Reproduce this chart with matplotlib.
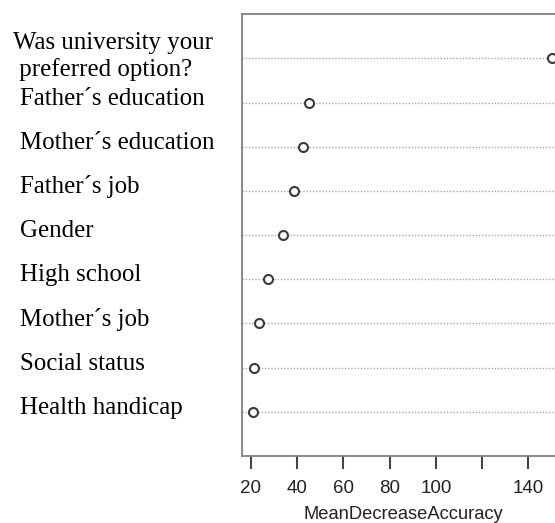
import numpy as np
import matplotlib.pyplot as plt
from matplotlib import transforms

# variable importance from the random forest, listed top to bottom
variables = [
    "Was university your\n preferred option?",
    "Father\u00b4s education",
    "Mother\u00b4s education",
    "Father\u00b4s job",
    "Gender",
    "High school",
    "Mother\u00b4s job",
    "Social status",
    "Health handicap",
]
mean_decrease_accuracy = [150.0, 45.3, 42.6, 38.7, 34.0, 27.5, 23.6, 21.4, 21.1]

x_ticks = [20, 40, 60, 80, 100, 120, 140]
x_tick_labels = ["20", "40", "60", "80", "100", "", "140"]

fig = plt.figure(figsize=(5.55, 5.23), dpi=100)
# the panel runs past the right edge of the figure
ax = fig.add_axes([0.4366, 0.128, 0.579, 0.845])

n = len(variables)
rows = np.arange(n, 0, -1)

for r in rows:
    ax.axhline(r, color="#a8a8a8", lw=1.0, ls=(0, (1, 1.3)), zorder=1)

ax.scatter(mean_decrease_accuracy, rows, s=42, facecolors="white",
           edgecolors="#3a3a3a", linewidths=1.5, zorder=3)

ax.set_xlim(16.3, 155.2)
ax.set_ylim(0, n + 1)
ax.set_yticks([])
ax.set_xticks(x_ticks)
ax.set_xticklabels(x_tick_labels, fontfamily="Liberation Sans", fontsize=13.5,
                   color="#222222")
ax.tick_params(axis="x", direction="out", length=9, width=1.5,
               color="#444444", pad=8)
ax.set_xlabel("MeanDecreaseAccuracy", fontfamily="Liberation Sans",
              fontsize=13.2, color="#222222", labelpad=7)

for side in ["top", "left", "bottom", "right"]:
    ax.spines[side].set_color("#808080")
    ax.spines[side].set_linewidth(1.3)

# row labels in a serif face, left aligned in the figure margin
label_font = dict(fontfamily="Liberation Serif", fontsize=17.9, color="black",
                  ha="left", va="baseline")
trans = transforms.blended_transform_factory(fig.transFigure, ax.transData)
for name, r in zip(variables, rows):
    if "\n" in name:
        first, second = name.split("\n")
        ax.text(0.024, r + 0.2, first, transform=trans, **label_font)
        ax.text(0.024, r - 0.4, second, transform=trans, **label_font)
    else:
        ax.text(0.036, r - 0.05, name, transform=trans, **label_font)

fig.savefig("out.png", dpi=100)
